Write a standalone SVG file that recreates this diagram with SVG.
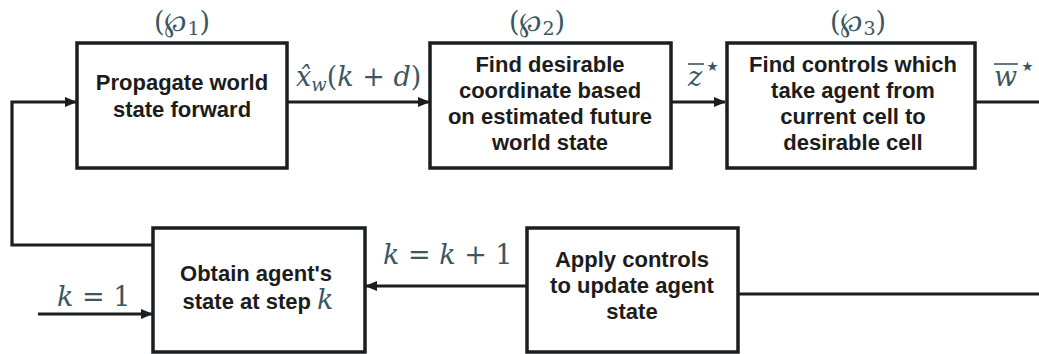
<svg xmlns="http://www.w3.org/2000/svg" width="1039" height="354" viewBox="0 0 1039 354">
<style>
.box{fill:#ffffff;stroke:#1a1e20;stroke-width:3.5}
.lbl{font-family:"Liberation Sans",Arial,sans-serif;font-weight:bold;font-size:22px;fill:#1c1c1c;text-anchor:middle}
.m{font-family:"DejaVu Serif","Liberation Serif",serif;font-size:27px;fill:#3a5761}
.mi{font-style:italic}
.conn{fill:none;stroke:#1a1e20;stroke-width:3.2}
</style>
<defs>
<marker id="ah" markerWidth="12" markerHeight="10" refX="11" refY="5" orient="auto" markerUnits="userSpaceOnUse">
<path d="M0,0 L12,5 L0,10 Z" fill="#1a1e20"/>
</marker>
</defs>
<rect width="1039" height="354" fill="#ffffff"/>

<g id="connectors">
<path class="conn" d="M153,245 H12 V102 H76" marker-end="url(#ah)"/>
<path class="conn" d="M287,102 H429" marker-end="url(#ah)"/>
<path class="conn" d="M671,102 H725" marker-end="url(#ah)"/>
<path class="conn" d="M975,102 H1039"/>
<path class="conn" d="M738,294 H1039"/>
<path class="conn" d="M526,286 H366" marker-end="url(#ah)"/>
<path class="conn" d="M38,314 H152" marker-end="url(#ah)"/>
</g>

<g id="edge-labels">
<text class="m" x="296" y="86"><tspan class="mi">x̂</tspan><tspan class="mi" font-size="18" dy="5">w</tspan><tspan dy="-5">(</tspan><tspan class="mi">k</tspan> + <tspan class="mi">d</tspan>)</text>
<g id="zstar">
<text class="m mi" x="688" y="86">z</text>
<line x1="688" y1="64" x2="704" y2="64" stroke="#3a5761" stroke-width="1.6"/>
<text class="m" x="704" y="75" font-size="15">⋆</text>
</g>
<g id="wstar">
<text class="m mi" x="994" y="86">w</text>
<line x1="994" y1="64" x2="1018" y2="64" stroke="#3a5761" stroke-width="1.6"/>
<text class="m" x="1019" y="75" font-size="15">⋆</text>
</g>
<text class="m" x="383" y="264"><tspan class="mi">k</tspan> = <tspan class="mi">k</tspan> + 1</text>
<text class="m" x="57" y="306"><tspan class="mi">k</tspan> = 1</text>
</g>

<g id="node-p1">
<rect class="box" x="77" y="43" width="210" height="125"/>
<text class="m" x="182" y="31" text-anchor="middle">(℘<tspan font-size="19" dy="4">1</tspan><tspan dy="-4">)</tspan></text>
<text class="lbl" x="182" y="90">Propagate world</text>
<text class="lbl" x="182" y="117">state forward</text>
</g>

<g id="node-p2">
<rect class="box" x="430" y="43" width="241" height="125"/>
<text class="m" x="537" y="31" text-anchor="middle">(℘<tspan font-size="19" dy="4">2</tspan><tspan dy="-4">)</tspan></text>
<text class="lbl" x="550" y="72">Find desirable</text>
<text class="lbl" x="550" y="98">coordinate based</text>
<text class="lbl" x="550" y="124">on estimated future</text>
<text class="lbl" x="550" y="150">world state</text>
</g>

<g id="node-p3">
<rect class="box" x="727" y="43" width="248" height="125"/>
<text class="m" x="858" y="31" text-anchor="middle">(℘<tspan font-size="19" dy="4">3</tspan><tspan dy="-4">)</tspan></text>
<text class="lbl" x="853" y="72">Find controls which</text>
<text class="lbl" x="853" y="98">take agent from</text>
<text class="lbl" x="853" y="124">current cell to</text>
<text class="lbl" x="853" y="150">desirable cell</text>
</g>

<g id="node-obtain">
<rect class="box" x="153" y="228" width="212" height="124"/>
<text class="lbl" x="256" y="281">Obtain agent's</text>
<text class="lbl" x="258" y="309">state at step <tspan class="m mi" font-weight="normal" font-size="24">k</tspan></text>
</g>

<g id="node-apply">
<rect class="box" x="527" y="228" width="211" height="124"/>
<text class="lbl" x="632" y="267">Apply controls</text>
<text class="lbl" x="632" y="293">to update agent</text>
<text class="lbl" x="632" y="319">state</text>
</g>
</svg>
